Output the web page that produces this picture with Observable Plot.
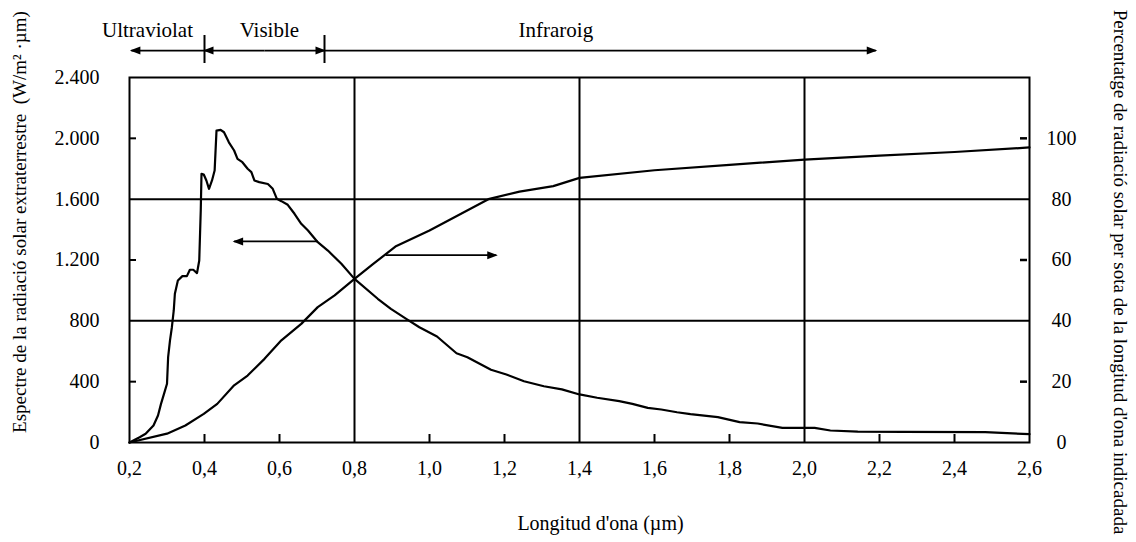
<!DOCTYPE html>
<html>
<head>
<meta charset="utf-8">
<script src="https://cdn.jsdelivr.net/npm/d3@7"></script>
<script src="https://cdn.jsdelivr.net/npm/@observablehq/plot@0.6"></script>
<style>
  html, body { margin: 0; padding: 0; background: #fff; }
  #chart svg { display: block; }
</style>
</head>
<body>
<div id="chart"></div>
<script>
// ---- data ----
const spectrumX = [0.2,0.227,0.243,0.264,0.276,0.284,0.292,0.300,0.303,0.308,0.313,0.318,0.321,0.329,0.341,0.353,0.361,0.370,0.380,0.386,0.390,0.392,0.398,0.405,0.412,0.420,0.427,0.432,0.443,0.452,0.465,0.479,0.488,0.501,0.515,0.525,0.533,0.546,0.569,0.582,0.593,0.605,0.622,0.640,0.658,0.676,0.702,0.729,0.765,0.800,0.862,0.897,0.938,0.973,1.020,1.072,1.101,1.164,1.205,1.252,1.305,1.353,1.400,1.447,1.506,1.541,1.582,1.618,1.660,1.696,1.769,1.827,1.875,1.941,2.027,2.069,2.142,2.264,2.482,2.600];
const spectrumW = [0,35,57,112,178,254,320,386,561,671,758,868,978,1065,1094,1094,1136,1136,1114,1197,1525,1767,1762,1723,1668,1723,1788,2051,2056,2040,1974,1920,1865,1843,1800,1778,1723,1712,1700,1668,1602,1587,1563,1504,1438,1394,1317,1262,1175,1076,945,879,813,758,697,587,561,478,447,403,370,349,316,294,272,254,228,217,199,186,167,134,125,96,96,79,72,70,68,55];
const cumX   = [0.2,0.30,0.349,0.398,0.434,0.479,0.515,0.56,0.605,0.658,0.702,0.747,0.8,0.85,0.909,1.0,1.157,1.24,1.33,1.4,1.6,1.8,2.0,2.2,2.4,2.6];
const cumPct = [0,2.9,5.6,9.4,12.7,18.8,22.0,27.5,33.6,39.0,44.5,48.4,53.8,58.7,64.4,69.7,80,82.5,84.3,87,89.5,91.3,93,94.3,95.5,97];

const xTicks = [0.2,0.4,0.6,0.8,1.0,1.2,1.4,1.6,1.8,2.0,2.2,2.4,2.6];
const yTicks = [0,400,800,1200,1600,2000,2400];
const pctTicks = [0,20,40,60,80,100];
const xGrid = [0.8,1.4,2.0];
const yGrid = [800,1600];
const xInner = [0.4,0.6,1.0,1.2,1.6,1.8,2.2,2.4];
const yInner = [400,1200,2000];
const pctInner = [20,60,100];

const bandNames = ["Ultraviolat","Visible","Infraroig"];
const bandLabelX = [0.248,0.573,1.337];
const bandBounds = [0.4,0.72];
// band arrows: tail -> head (µm)
const bandArrowFrom = [0.4,0.56,0.56,0.72];
const bandArrowTo   = [0.205,0.4,0.72,2.19];
// in-plot arrows
const leftArrow  = {from: 0.702, to: 0.479, w: 1322};
const rightArrow = {from: 0.883, to: 1.178, pct: 61.6};

const xTitle = "Longitud d'ona (µm)";
const yTitle = "Espectre de la radiació solar extraterrestre\u00a0\u00a0(W/m² ·µm)";
const y2Title = "Percentatge de radiació solar per sota de la longitud d'ona indicadada";

// ---- layout ----
const W = 1136, H = 542;
const mL = 129, mR = 107, mT = 77, mB = 100;
const frameW = W - mL - mR, frameH = H - mT - mB;
const k = 2400 / 120; // right axis (%) -> left axis units
const arrowLevel = 2577, barLo = 2492, barHi = 2676;

const spectrum = spectrumX.map((x, i) => ({x, w: spectrumW[i]}));
const cumulative = cumX.map((x, i) => ({x, w: cumPct[i] * k}));
const bandArrows = bandArrowFrom.map((x1, i) => ({x1, x2: bandArrowTo[i]}));
const bandLabels = bandNames.map((t, i) => ({t, x: bandLabelX[i]}));
const inArrows = [
  {x1: leftArrow.from, x2: leftArrow.to, y: leftArrow.w},
  {x1: rightArrow.from, x2: rightArrow.to, y: rightArrow.pct * k}
];

const loc = d3.formatLocale({decimal: ",", thousands: ".", grouping: [3], currency: ["", "€"]});
const fmtY = loc.format(",d");
const fmtX = d => d.toFixed(1).replace(".", ",");

const plot = Plot.plot({
  width: W, height: H,
  marginLeft: mL, marginRight: mR, marginTop: mT, marginBottom: mB,
  x: {domain: [0.2, 2.6]},
  y: {domain: [0, 2400]},
  style: {fontFamily: "'Liberation Serif', 'Times New Roman', serif", fontSize: "20px", color: "black", background: "white"},
  marks: [
    Plot.ruleY(yGrid, {strokeWidth: 2}),
    Plot.ruleX(xGrid, {strokeWidth: 2}),
    Plot.tickX(xInner, {x: d => d, insetTop: frameH - 8, strokeWidth: 2}),
    Plot.tickY(yInner, {y: d => d, insetRight: frameW - 7, strokeWidth: 2}),
    Plot.tickY(pctInner, {y: d => d * k, insetLeft: frameW - 9, insetRight: 2, strokeWidth: 2.5}),
    Plot.frame({strokeWidth: 2}),
    Plot.axisX({ticks: xTicks, tickFormat: fmtX, tickSize: 0, tickPadding: 18, label: null, fontSize: 20}),
    Plot.axisY({anchor: "left", ticks: yTicks, tickFormat: fmtY, tickSize: 0, tickPadding: 30, label: null, fontSize: 20}),
    Plot.axisY({anchor: "right", ticks: pctTicks.map(p => p * k), tickFormat: d => String(d / k), tickSize: 0, tickPadding: 32, textAnchor: "middle", label: null, fontSize: 20}),
    Plot.line(spectrum, {x: "x", y: "w", strokeWidth: 2.2, strokeLinejoin: "round"}),
    Plot.line(cumulative, {x: "x", y: "w", strokeWidth: 2.2, strokeLinejoin: "round"}),
    Plot.link(inArrows, {x1: "x1", x2: "x2", y1: "y", y2: "y", strokeWidth: 1.8, markerEnd: "arrow"}),
    Plot.link(bandArrows, {x1: "x1", x2: "x2", y1: arrowLevel, y2: arrowLevel, strokeWidth: 1.8, markerEnd: "arrow"}),
    Plot.ruleX(bandBounds, {y1: barLo, y2: barHi, strokeWidth: 2}),
    Plot.text(bandLabels, {x: "x", text: "t", frameAnchor: "top", dy: -47, lineAnchor: "middle", fontSize: 21}),
    Plot.text([xTitle], {text: d => d, frameAnchor: "bottom", dx: 21, dy: 81, textAnchor: "middle", lineAnchor: "middle", fontSize: 20}),
    Plot.text([yTitle], {text: d => d, frameAnchor: "left", dx: -110, dy: -38, rotate: -90, textAnchor: "middle", lineAnchor: "middle", fontSize: 19}),
    Plot.text([y2Title], {text: d => d, frameAnchor: "right", dx: 91, dy: 12, rotate: 90, textAnchor: "middle", lineAnchor: "middle", fontSize: 19})
  ]
});

// filled arrowheads
plot.querySelectorAll("marker").forEach(m => {
  m.setAttribute("viewBox", "-10 -5 12 10");
  m.setAttribute("markerUnits", "userSpaceOnUse");
  m.setAttribute("markerWidth", 12);
  m.setAttribute("markerHeight", 10);
  m.setAttribute("refX", 0);
  m.setAttribute("refY", 0);
  m.setAttribute("fill", "black");
  m.setAttribute("stroke", "none");
  const p = m.querySelector("path");
  if (p) p.setAttribute("d", "M-9,-4L1.5,0L-9,4Z");
});

document.getElementById("chart").appendChild(plot);
</script>
</body>
</html>
